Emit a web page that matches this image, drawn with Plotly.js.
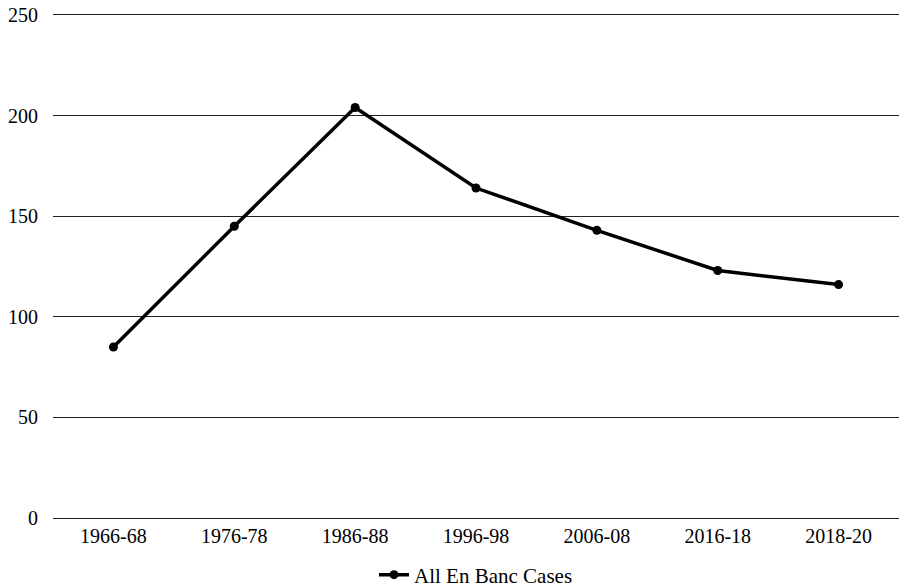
<!DOCTYPE html>
<html>
<head>
<meta charset="utf-8">
<script src="https://cdn.plot.ly/plotly-3.0.1.min.js"></script>
<style>html,body{margin:0;padding:0;background:#fff;}#chart{width:899px;height:587px;}</style>
</head>
<body>
<div id="chart"></div>
<script>
const categories = ["1966-68", "1976-78", "1986-88", "1996-98", "2006-08", "2016-18", "2018-20"];
const enBancCases = [85, 145, 204, 164, 143, 123, 116];
const yTickVals = [0, 50, 100, 150, 200, 250];
const seriesName = "All En Banc Cases";

const trace = {
  x: categories,
  y: enBancCases,
  type: "scatter",
  mode: "lines+markers",
  name: seriesName,
  line: {color: "#000", width: 3.5},
  marker: {color: "#000", size: 9}
};

const layout = {
  width: 899, height: 587,
  margin: {l: 53, r: 0, t: 15, b: 69},
  paper_bgcolor: "#fff", plot_bgcolor: "#fff",
  font: {family: "Liberation Serif", size: 20, color: "#000"},
  showlegend: true,
  legend: {orientation: "h", x: 0.5, xanchor: "center", y: 12 / 587, yref: "container", yanchor: "middle", font: {family: "Liberation Serif", size: 21}},
  xaxis: {type: "category", range: [-0.5, 6.5], showgrid: false, zeroline: false, showline: true, mirror: true, linecolor: "#222", linewidth: 1, ticks: "", tickfont: {family: "Liberation Serif", size: 20}},
  yaxis: {range: [0, 250], tickvals: yTickVals, showgrid: true, gridcolor: "#222", gridwidth: 1, zeroline: true, zerolinecolor: "#222", zerolinewidth: 1, showline: false, ticks: "", ticklabelstandoff: 14, tickfont: {family: "Liberation Serif", size: 20}}
};

Plotly.newPlot("chart", [trace], layout, {displayModeBar: false, staticPlot: true});
</script>
</body>
</html>
